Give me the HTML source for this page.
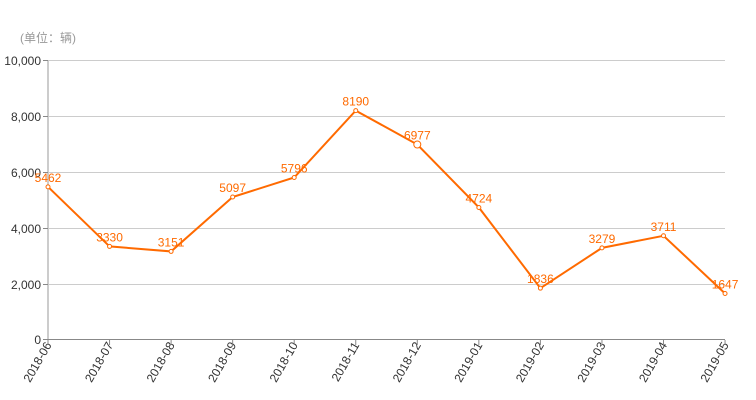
<!DOCTYPE html>
<html><head><meta charset="utf-8"><style>body{margin:0;background:#fff}svg{display:block;font-family:"Liberation Sans","Noto Sans CJK SC",sans-serif}</style></head>
<body>
<svg width="756" height="400" xmlns="http://www.w3.org/2000/svg">
<text x="20" y="42" font-size="12" fill="#999">(单位：辆)</text>
<g stroke="#ccc" stroke-width="1">
<line x1="48" y1="60.5" x2="725" y2="60.5"/>
<line x1="48" y1="116.5" x2="725" y2="116.5"/>
<line x1="48" y1="172.5" x2="725" y2="172.5"/>
<line x1="48" y1="228.5" x2="725" y2="228.5"/>
<line x1="48" y1="284.5" x2="725" y2="284.5"/>
</g>
<line x1="48" y1="60" x2="48" y2="340" stroke="#ccc" stroke-width="2"/>
<line x1="48" y1="339.5" x2="725" y2="339.5" stroke="#888" stroke-width="1"/>
<g stroke="#888">
<line x1="43" y1="60.5" x2="48" y2="60.5"/><line x1="43" y1="116.5" x2="48" y2="116.5"/><line x1="43" y1="172.5" x2="48" y2="172.5"/><line x1="43" y1="228.5" x2="48" y2="228.5"/><line x1="43" y1="284.5" x2="48" y2="284.5"/><line x1="43" y1="339.5" x2="48" y2="339.5"/>
</g>
<g font-size="12" fill="#333" text-anchor="end">
<text x="41" y="65">10,000</text><text x="41" y="121">8,000</text><text x="41" y="177">6,000</text><text x="41" y="233">4,000</text><text x="41" y="289">2,000</text><text x="41" y="344">0</text>
</g>
<g font-size="12" fill="#333" text-anchor="end" id="xl"></g>
<g id="d"></g>
<script>
var labs=["2018-06","2018-07","2018-08","2018-09","2018-10","2018-11","2018-12","2019-01","2019-02","2019-03","2019-04","2019-05"];
var vals=[5462,3330,3151,5097,5796,8190,6977,4724,1836,3279,3711,1647];
var ns="http://www.w3.org/2000/svg",xl=document.getElementById("xl"),d=document.getElementById("d"),pts=[];
for(var i=0;i<12;i++){var x=48+i*61.55,y=339.5-vals[i]*0.02795;pts.push(x+","+y);
var t=document.createElementNS(ns,"text");t.setAttribute("transform","translate("+(x+4)+",345) rotate(-60)");t.textContent=labs[i];xl.appendChild(t);
var tk=document.createElementNS(ns,"line");tk.setAttribute("x1",x);tk.setAttribute("x2",x);tk.setAttribute("y1",340);tk.setAttribute("y2",345);tk.setAttribute("stroke","#888");xl.appendChild(tk);}
var pl=document.createElementNS(ns,"polyline");pl.setAttribute("points",pts.join(" "));pl.setAttribute("fill","none");pl.setAttribute("stroke","#ff6a00");pl.setAttribute("stroke-width","2");d.appendChild(pl);
for(var i=0;i<12;i++){var x=48+i*61.55,y=339.5-vals[i]*0.02795;
var c=document.createElementNS(ns,"circle");c.setAttribute("cx",x);c.setAttribute("cy",y);c.setAttribute("r",i==6?3.5:2);c.setAttribute("fill","#fff");c.setAttribute("stroke","#ff6a00");d.appendChild(c);
var t=document.createElementNS(ns,"text");t.setAttribute("x",x);t.setAttribute("y",y-5);t.setAttribute("text-anchor","middle");t.setAttribute("font-size","12");t.setAttribute("fill","#ff6a00");t.textContent=vals[i];d.appendChild(t);}
</script>
</svg>
</body></html>
